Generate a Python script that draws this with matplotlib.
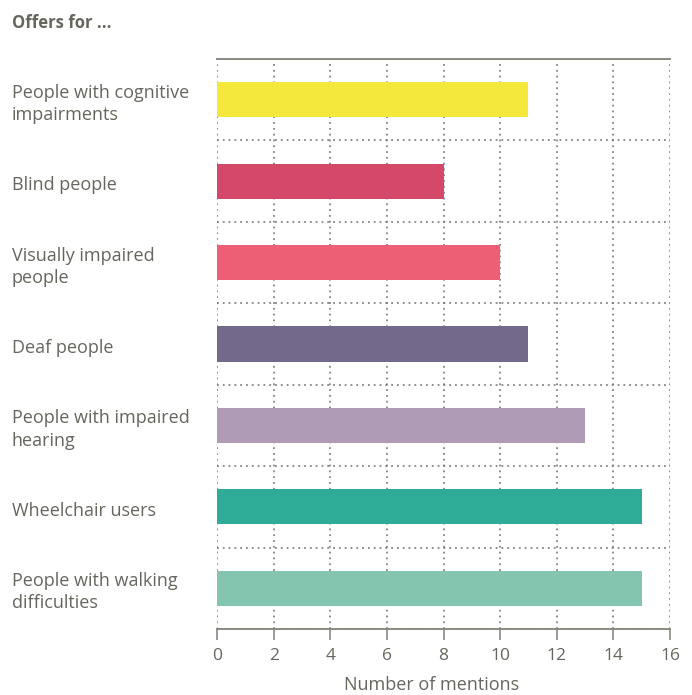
import matplotlib.pyplot as plt
import matplotlib.transforms as mtransforms

categories = [
    "People with cognitive\nimpairments",
    "Blind people",
    "Visually impaired\npeople",
    "Deaf people",
    "People with impaired\nhearing",
    "Wheelchair users",
    "People with walking\ndifficulties",
]
mentions = [11, 8, 10, 11, 13, 15, 15]
colors = ["#f4e83c", "#d4486a", "#ec5f75", "#736a8b", "#af9bb5", "#2eac98", "#84c5b0"]
x_ticks = [0, 2, 4, 6, 8, 10, 12, 14, 16]

text_color = "#66665e"
grid_color = "#707070"
plt.rcParams["font.family"] = ["Open Sans", "DejaVu Sans"]

fig = plt.figure(figsize=(6.92, 6.95), dpi=100)
ax = fig.add_axes([217 / 692, 1 - 629 / 695, (670 - 217) / 692, (629 - 59) / 695])

n = len(categories)
ypos = list(range(n))
ax.barh(ypos, mentions, height=0.43, color=colors, zorder=3)
ax.set_ylim(n - 0.5, -0.5)
ax.set_xlim(0, 16)
ax.set_xticks(x_ticks)

# dotted grid: vertical at each tick, horizontal between categories
for xv in x_ticks:
    ax.axvline(xv, color=grid_color, linestyle=(0, (1.2, 2.6)), linewidth=1.1, zorder=1)
for b in range(1, n):
    ax.axhline(b - 0.5, color=grid_color, linestyle=(0, (1.2, 2.6)), linewidth=1.1, zorder=1)

for side in ["left", "right"]:
    ax.spines[side].set_visible(False)
for side in ["top", "bottom"]:
    ax.spines[side].set_color("#8a8a82")
    ax.spines[side].set_linewidth(1.4)

ax.tick_params(axis="x", direction="out", length=8, width=1.2, color="#8a8a82",
               labelsize=12.5, labelcolor=text_color, pad=6)
ax.tick_params(axis="y", length=0, labelleft=False)

# category labels: x in figure coordinates, y in data coordinates
label_tr = mtransforms.blended_transform_factory(fig.transFigure, ax.transData)
for y, lab in zip(ypos, categories):
    ax.text(12 / 692, y + 0.05, lab, transform=label_tr, ha="left", va="center",
            fontsize=13, color=text_color, linespacing=1.3)

ax.set_xlabel("Number of mentions", fontsize=13, color=text_color)
ax.xaxis.set_label_coords((432 - 217) / 453, -0.082)

fig.text(12 / 692, 1 - 23 / 695, "Offers for ...", ha="left", va="center",
         fontsize=12, fontweight="bold", color=text_color)

fig.savefig("out.png", dpi=100)
